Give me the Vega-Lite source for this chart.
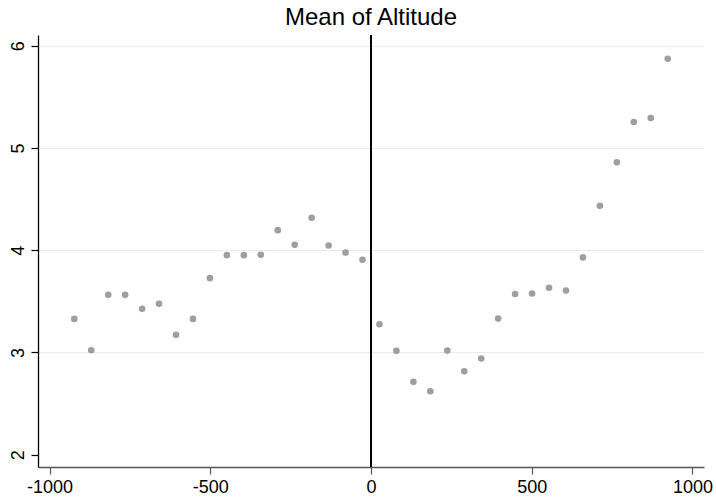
{
  "$schema": "https://vega.github.io/schema/vega-lite/v6.json",
  "width": 666,
  "height": 432,
  "autosize": "none",
  "padding": {"left": 38, "top": 35, "right": 12, "bottom": 30},
  "background": "white",
  "title": {"text": "Mean of Altitude", "fontSize": 24, "font": "Liberation Sans", "fontWeight": "normal", "color": "black", "anchor": "middle", "baseline": "alphabetic", "offset": 9, "dy": 24},
  "config": {"view": {"stroke": null}},
  "data": {"values": [
    {"dist": -923.1, "altitude": 3.328},
    {"dist": -870.4, "altitude": 3.021},
    {"dist": -817.6, "altitude": 3.563},
    {"dist": -764.9, "altitude": 3.563},
    {"dist": -712.1, "altitude": 3.426},
    {"dist": -659.4, "altitude": 3.475},
    {"dist": -606.6, "altitude": 3.172},
    {"dist": -553.9, "altitude": 3.328},
    {"dist": -501.1, "altitude": 3.726},
    {"dist": -448.4, "altitude": 3.951},
    {"dist": -395.6, "altitude": 3.951},
    {"dist": -342.9, "altitude": 3.955},
    {"dist": -290.1, "altitude": 4.196},
    {"dist": -237.4, "altitude": 4.053},
    {"dist": -184.6, "altitude": 4.317},
    {"dist": -131.9, "altitude": 4.046},
    {"dist": -79.1, "altitude": 3.977},
    {"dist": -26.4, "altitude": 3.906},
    {"dist": 26.4, "altitude": 3.276},
    {"dist": 79.1, "altitude": 3.015},
    {"dist": 131.9, "altitude": 2.712},
    {"dist": 184.6, "altitude": 2.62},
    {"dist": 237.4, "altitude": 3.018},
    {"dist": 290.1, "altitude": 2.815},
    {"dist": 342.9, "altitude": 2.94},
    {"dist": 395.6, "altitude": 3.331},
    {"dist": 448.4, "altitude": 3.571},
    {"dist": 501.1, "altitude": 3.576},
    {"dist": 553.9, "altitude": 3.632},
    {"dist": 606.6, "altitude": 3.605},
    {"dist": 659.4, "altitude": 3.929},
    {"dist": 712.1, "altitude": 4.435},
    {"dist": 764.9, "altitude": 4.859},
    {"dist": 817.6, "altitude": 5.254},
    {"dist": 870.4, "altitude": 5.293},
    {"dist": 923.1, "altitude": 5.873}
  ]},
  "layer": [
    {
      "mark": {"type": "point", "filled": true, "size": 44, "color": "#9f9f9f", "opacity": 1},
      "encoding": {
        "x": {"field": "dist", "type": "quantitative", "scale": {"domain": [-1036, 1036], "nice": false, "zero": false},
          "axis": {"values": [-1000, -500, 0, 500, 1000], "labelExpr": "datum.value + ''", "grid": false, "title": null, "domainColor": "#555555", "domainWidth": 1.6, "tickColor": "#555555", "tickWidth": 1.2, "tickSize": 7, "labelFont": "Liberation Sans", "labelFontSize": 18, "labelColor": "black", "labelPadding": 4, "labelFlush": false}},
        "y": {"field": "altitude", "type": "quantitative", "scale": {"domain": [1.879, 6.105], "nice": false, "zero": false},
          "axis": {"values": [2, 3, 4, 5, 6], "labelExpr": "datum.value + ''", "grid": true, "gridColor": "#eaeaea", "gridWidth": 1.2, "gridOpacity": {"condition": {"test": "datum.value == 2", "value": 0}, "value": 1}, "title": null, "domainColor": "black", "domainWidth": 1.3, "tickColor": "black", "tickWidth": 1.2, "tickSize": 7, "labelFont": "Liberation Sans", "labelFontSize": 18, "labelColor": "black", "labelAngle": -90, "labelAlign": "center", "labelBaseline": "bottom", "labelPadding": 4}}
      }
    },
    {
      "mark": {"type": "rule", "color": "black", "strokeWidth": 1.3},
      "encoding": {"x": {"datum": 0, "type": "quantitative"}}
    }
  ]
}
